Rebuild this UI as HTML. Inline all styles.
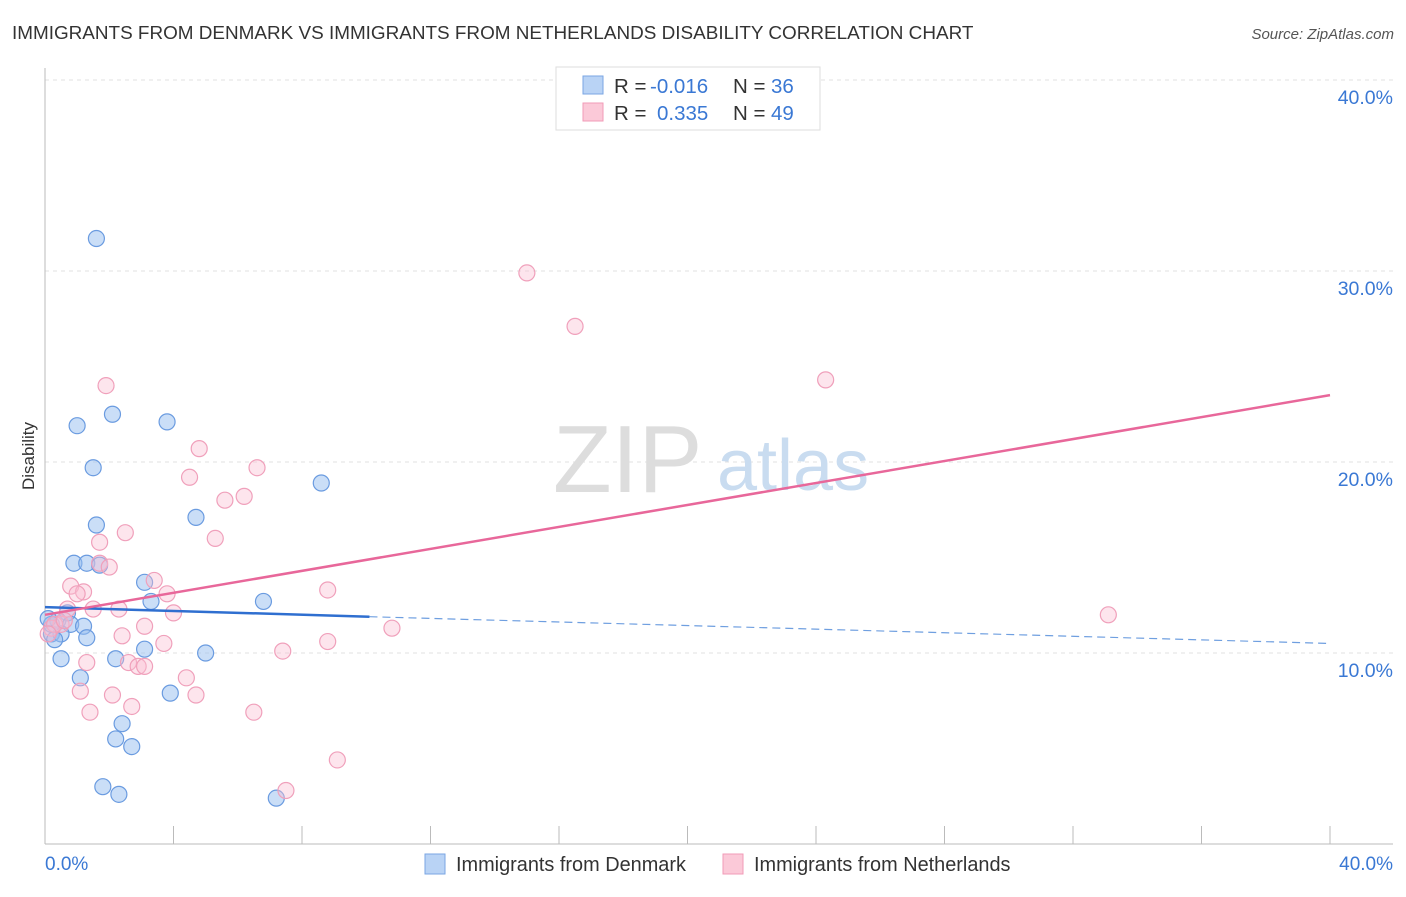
<!DOCTYPE html>
<html><head><meta charset="utf-8"><style>
body{margin:0;background:#fff;font-family:"Liberation Sans",sans-serif;}
svg text{font-family:"Liberation Sans",sans-serif;}
</style></head><body>
<svg id="chart" width="1406" height="892">
<text x="12" y="39" font-size="18.9" fill="#333">IMMIGRANTS FROM DENMARK VS IMMIGRANTS FROM NETHERLANDS DISABILITY CORRELATION CHART</text>
<text x="1394" y="39" font-size="15" fill="#555" font-style="italic" text-anchor="end">Source: ZipAtlas.com</text>
<text x="34" y="456" font-size="17" fill="#333" transform="rotate(-90 34 456)" text-anchor="middle">Disability</text>
<g id="grid"></g>
<g id="wm"><text x="553" y="492" font-size="96" fill="#ddd" font-family="Liberation Serif">ZIP</text><text x="717" y="490" font-size="72" fill="#c9dcf0">atlas</text></g>
<g id="marks"></g>
<g>
<rect x="556" y="67" width="264" height="63" fill="#fff" stroke="#ddd"/>
<rect x="583" y="76" width="20" height="18" fill="#b9d3f5" stroke="#7aa6e3"/>
<rect x="583" y="103" width="20" height="18" fill="#fbc9d8" stroke="#f19bb7"/>
<text x="614" y="93" font-size="20.5" fill="#333">R = <tspan x="650" fill="#3a78d4">-0.016</tspan><tspan x="733">N = </tspan><tspan x="771" fill="#3a78d4">36</tspan></text>
<text x="614" y="120" font-size="20.5" fill="#333">R = <tspan x="657" fill="#3a78d4">0.335</tspan><tspan x="733">N = </tspan><tspan x="771" fill="#3a78d4">49</tspan></text>
</g>
<g>
<rect x="425" y="854" width="20" height="20" fill="#b9d3f5" stroke="#7aa6e3"/>
<text x="456" y="871" font-size="19.9" fill="#333">Immigrants from Denmark</text>
<rect x="723" y="854" width="20" height="20" fill="#fbc9d8" stroke="#f19bb7"/>
<text x="754" y="871" font-size="19.9" fill="#333">Immigrants from Netherlands</text>
</g>
</svg>
<script>
const yTicks=[10,20,30,40];
const xTickLabels=["0.0%","40.0%"];
const denX=[1.6,2.1,1.0,3.8,1.5,8.6,4.7,1.6,0.9,1.3,1.7,3.1,3.3,6.8,0.7,0.4,0.8,1.2,0.2,0.5,0.3,1.3,3.1,5.0,0.5,2.2,1.1,3.9,2.4,2.2,2.7,1.8,2.3,7.2,0.2,0.1];
const denY=[31.7,22.5,21.9,22.1,19.7,18.9,17.1,16.7,14.7,14.7,14.6,13.7,12.7,12.7,12.1,11.7,11.5,11.4,11.0,11.0,10.7,10.8,10.2,10.0,9.7,9.7,8.7,7.9,6.3,5.5,5.1,3.0,2.6,2.4,11.5,11.8];
const nedX=[15.0,16.5,24.3,1.9,4.8,6.6,4.5,6.2,5.6,5.3,2.5,1.7,1.7,2.0,3.4,0.8,1.2,3.8,8.8,1.5,2.3,0.7,4.0,33.1,3.1,10.8,0.5,0.2,2.4,8.8,3.7,7.4,1.3,2.6,2.9,3.1,4.4,1.1,2.1,4.7,2.7,1.4,6.5,9.1,7.5,1.0,0.3,0.6,0.1];
const nedY=[29.9,27.1,24.3,24.0,20.7,19.7,19.2,18.2,18.0,16.0,16.3,15.8,14.7,14.5,13.8,13.5,13.2,13.1,13.3,12.3,12.3,12.3,12.1,12.0,11.4,11.3,11.5,11.3,10.9,10.6,10.5,10.1,9.5,9.5,9.3,9.3,8.7,8.0,7.8,7.8,7.2,6.9,6.9,4.4,2.8,13.1,11.5,11.7,11.0];
const denTrend=[-0.016,12.4,11.9,10.5];
const nedTrend=[12.0,23.5];
const X=v=>45+v*32.125, Y=v=>844-v*19.1;
const NS="http://www.w3.org/2000/svg";
const grid=document.getElementById('grid'), marks=document.getElementById('marks');
function mk(tag,attrs,parent){const e=document.createElementNS(NS,tag);for(const k in attrs)e.setAttribute(k,attrs[k]);parent.appendChild(e);return e;}
yTicks.forEach(t=>{
 const l=mk('line',{x1:45,x2:1393,y1:Y(t),y2:Y(t),stroke:'#e2e2e2','stroke-dasharray':'4,4'},grid);
 
 
 const tx=mk('text',{x:1393,y:Y(t)+24,'font-size':19.5,fill:'#3a78d4','text-anchor':'end'},grid);
 tx.textContent=t.toFixed(1)+'%';
 
 
});
const ax=mk('line',{x1:45,x2:1393,y1:844,y2:844,stroke:'#bbb'},grid);


const ay=mk('line',{x1:45,x2:45,y1:68,y2:844,stroke:'#bbb'},grid);


for(let i=0;i<=10;i++){const t=mk('line',{x1:X(i*4),x2:X(i*4),y1:826,y2:844,stroke:'#bbb'},grid);
 
 }
[[0,45,'start'],[1,1393,'end']].forEach(([i,x,a])=>{const t=mk('text',{x:x,y:870,'font-size':19,fill:'#3a78d4','text-anchor':a},grid);t.textContent=xTickLabels[i];
 
 });
denX.forEach((x,i)=>{const c=mk('circle',{cx:X(x),cy:Y(denY[i]),r:8,fill:'rgba(150,190,240,0.5)',stroke:'#6a9be0','stroke-width':1.2},marks);
 
 });
nedX.forEach((x,i)=>{const c=mk('circle',{cx:X(x),cy:Y(nedY[i]),r:8,fill:'rgba(250,190,210,0.4)',stroke:'#f0a0bb','stroke-width':1.2},marks);
 
 });
const b1=mk('line',{x1:X(0),y1:Y(denTrend[1]),x2:X(10.1),y2:Y(denTrend[2]),stroke:'#2f6fd0','stroke-width':2.5},marks);


const b2=mk('line',{x1:X(10.1),y1:Y(denTrend[2]),x2:X(40),y2:Y(denTrend[3]),stroke:'#6f9fe0','stroke-width':1.2,'stroke-dasharray':'8,5'},marks);


const p1=mk('line',{x1:X(0),y1:Y(nedTrend[0]),x2:X(40),y2:Y(nedTrend[1]),stroke:'#e8679a','stroke-width':2.5},marks);


</script>
</body></html>
